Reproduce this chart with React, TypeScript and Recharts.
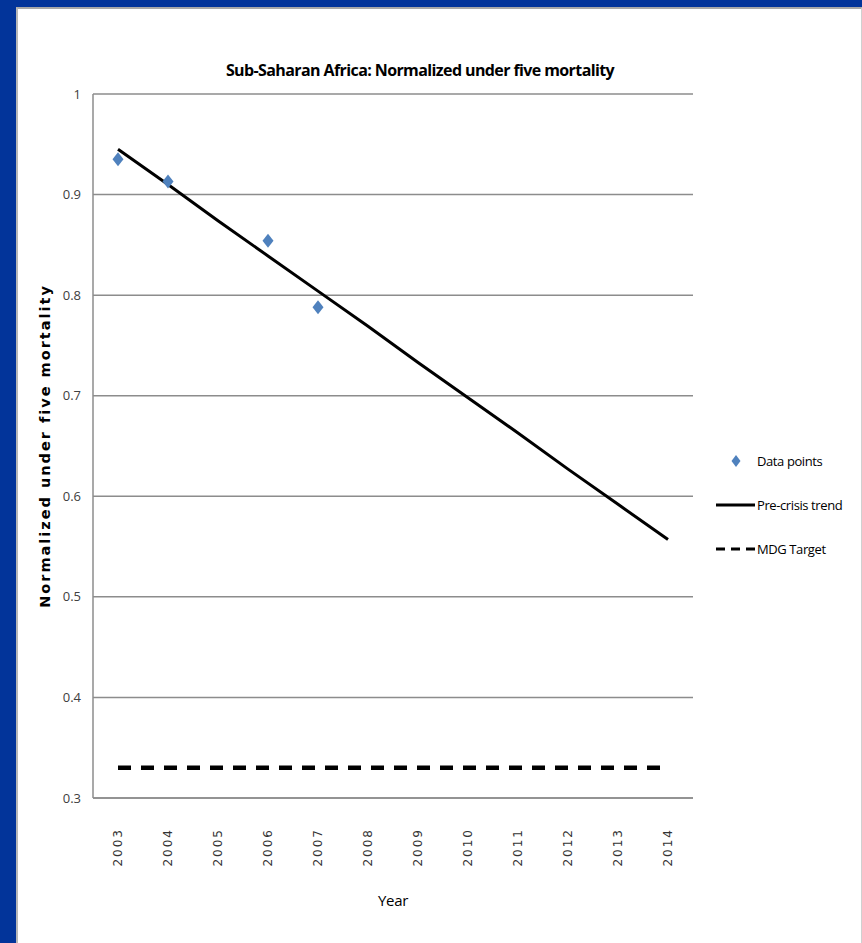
import React from 'react';
import { ComposedChart, Line, XAxis, YAxis, CartesianGrid, Legend, Label } from 'recharts';

// years on the category axis
const years = ['2003', '2004', '2005', '2006', '2007', '2008', '2009', '2010', '2011', '2012', '2013', '2014'];
// observed normalized under-five mortality (gaps where no survey)
const dataPoints = [0.935, 0.913, null, 0.854, 0.788, null, null, null, null, null, null, null];
// straight pre-crisis trend line
const preCrisisTrend = [0.945, 0.910, 0.874, 0.839, 0.804, 0.769, 0.733, 0.698, 0.663, 0.627, 0.592, 0.557];
// MDG target level
const mdgTarget = [0.33, 0.33, 0.33, 0.33, 0.33, 0.33, 0.33, 0.33, 0.33, 0.33, 0.33, 0.33];
const yTicks = [0.3, 0.4, 0.5, 0.6, 0.7, 0.8, 0.9, 1];

const legendItems = [
  { label: 'Data points', kind: 'diamond' },
  { label: 'Pre-crisis trend', kind: 'solid' },
  { label: 'MDG Target', kind: 'dashed' },
];

const chartData = years.map((year, i) => ({
  year,
  points: dataPoints[i],
  trend: preCrisisTrend[i],
  mdg: mdgTarget[i],
}));

const NARROW = '"Open Sans", Arial, sans-serif';
const GRID = '#8c8c8c';
const BLUE = '#4f81bd';

const Diamond = (props: any) => {
  const { cx, cy, index } = props;
  if (cx == null || cy == null) return <g key={`d-${index}`} />;
  return (
    <path
      key={`d-${index}`}
      d={`M${cx},${cy - 7} L${cx + 5.5},${cy} L${cx},${cy + 7} L${cx - 5.5},${cy} Z`}
      fill={BLUE}
    />
  );
};

const YearTick = (props: any) => {
  const { x, y, payload } = props;
  const ty = y + 22;
  return (
    <text
      x={x}
      y={ty}
      transform={`rotate(-90 ${x} ${ty})`}
      textAnchor="end"
      dominantBaseline="central"
      fontFamily='"DejaVu Sans", sans-serif'
      fontSize={12}
      letterSpacing={2}
      fill="#333"
    >
      {payload.value}
    </text>
  );
};

const renderLegend = () => (
  <svg width={162} height={130}>
    {legendItems.map((item, i) => {
      const cy = 21 + i * 44;
      return (
        <g key={item.label}>
          {item.kind === 'diamond' && (
            <path d={`M36,${cy - 6} L40.5,${cy} L36,${cy + 6} L31.5,${cy} Z`} fill={BLUE} />
          )}
          {item.kind === 'solid' && <line x1={16} x2={55} y1={cy} y2={cy} stroke="#000" strokeWidth={3} />}
          {item.kind === 'dashed' && (
            <line x1={16} x2={55} y1={cy} y2={cy} stroke="#000" strokeWidth={3} strokeDasharray="9 6" />
          )}
          <text
            x={57}
            y={cy}
            dominantBaseline="central"
            fontFamily={NARROW}
            fontSize={13}
            letterSpacing={-0.4}
            fill="#000"
          >
            {item.label}
          </text>
        </g>
      );
    })}
  </svg>
);

export default function App() {
  return (
    <div style={{ position: 'absolute', left: 0, top: 0, width: 862, height: 943, background: '#02349a', overflow: 'hidden' }}>
      <div
        style={{
          position: 'absolute',
          left: 16,
          top: 7,
          right: 0,
          bottom: 0,
          background: '#fff',
          borderLeft: '2px solid #b8b8b8',
          borderTop: '2px solid #a8a8a8',
          borderRight: '1px solid #d0d0d0',
        }}
      />
      <div
        style={{
          position: 'absolute',
          left: 170,
          top: 59,
          width: 500,
          textAlign: 'center',
          whiteSpace: 'nowrap',
          fontFamily: NARROW,
          fontWeight: 'bold',
          fontSize: 16,
          letterSpacing: -0.6,
          lineHeight: '22px',
          color: '#000',
        }}
      >
        Sub-Saharan Africa: Normalized under five mortality
      </div>
      <div style={{ position: 'absolute', left: 0, top: 0 }}>
        <ComposedChart width={862} height={943} data={chartData} margin={{ top: 94, right: 169, bottom: 75, left: 53 }}>
          <CartesianGrid vertical={false} stroke={GRID} strokeWidth={1.5} />
          <XAxis
            dataKey="year"
            height={70}
            interval={0}
            padding={{ left: 25, right: 25 }}
            tickLine={false}
            axisLine={{ stroke: GRID, strokeWidth: 1.5 }}
            tick={<YearTick />}
          >
            <Label
              content={(p: any) => {
                const { x, width } = p.viewBox;
                return (
                  <text x={x + width / 2} y={900} textAnchor="middle" dominantBaseline="central" fontFamily={NARROW} fontSize={15} letterSpacing={-0.3} fill="#000">
                    Year
                  </text>
                );
              }}
            />
          </XAxis>
          <YAxis
            width={40}
            domain={[0.3, 1]}
            ticks={yTicks}
            tickLine={false}
            tickSize={6}
            tickMargin={6}
            axisLine={{ stroke: GRID, strokeWidth: 1.5 }}
            tick={{ fill: '#404040', fontFamily: NARROW, fontSize: 13 }}
            tickFormatter={(v: number) => String(v)}
          >
            <Label
              content={(p: any) => {
                const { x, y, height } = p.viewBox;
                const cx = x - 8;
                const cy = y + height / 2;
                return (
                  <text
                    x={cx}
                    y={cy}
                    transform={`rotate(-90 ${cx} ${cy})`}
                    textAnchor="middle"
                    dominantBaseline="central"
                    fontFamily='"DejaVu Sans", Verdana, sans-serif'
                    fontWeight="bold"
                    fontSize={14.5}
                    letterSpacing={2}
                    fill="#000"
                  >
                    Normalized under five mortality
                  </text>
                );
              }}
            />
          </YAxis>
          <Legend
            layout="horizontal"
            verticalAlign="middle"
            align="center"
            wrapperStyle={{ left: 700, top: 440, width: 162, height: 130 }}
            content={renderLegend}
          />
          <Line
            dataKey="mdg"
            type="linear"
            stroke="#000"
            strokeWidth={4.5}
            strokeDasharray="13 10"
            dot={false}
            activeDot={false}
            isAnimationActive={false}
          />
          <Line
            dataKey="trend"
            type="linear"
            stroke="#000"
            strokeWidth={3}
            dot={false}
            activeDot={false}
            isAnimationActive={false}
          />
          <Line
            dataKey="points"
            type="linear"
            stroke="none"
            dot={<Diamond />}
            activeDot={false}
            isAnimationActive={false}
          />
        </ComposedChart>
      </div>
    </div>
  );
}
